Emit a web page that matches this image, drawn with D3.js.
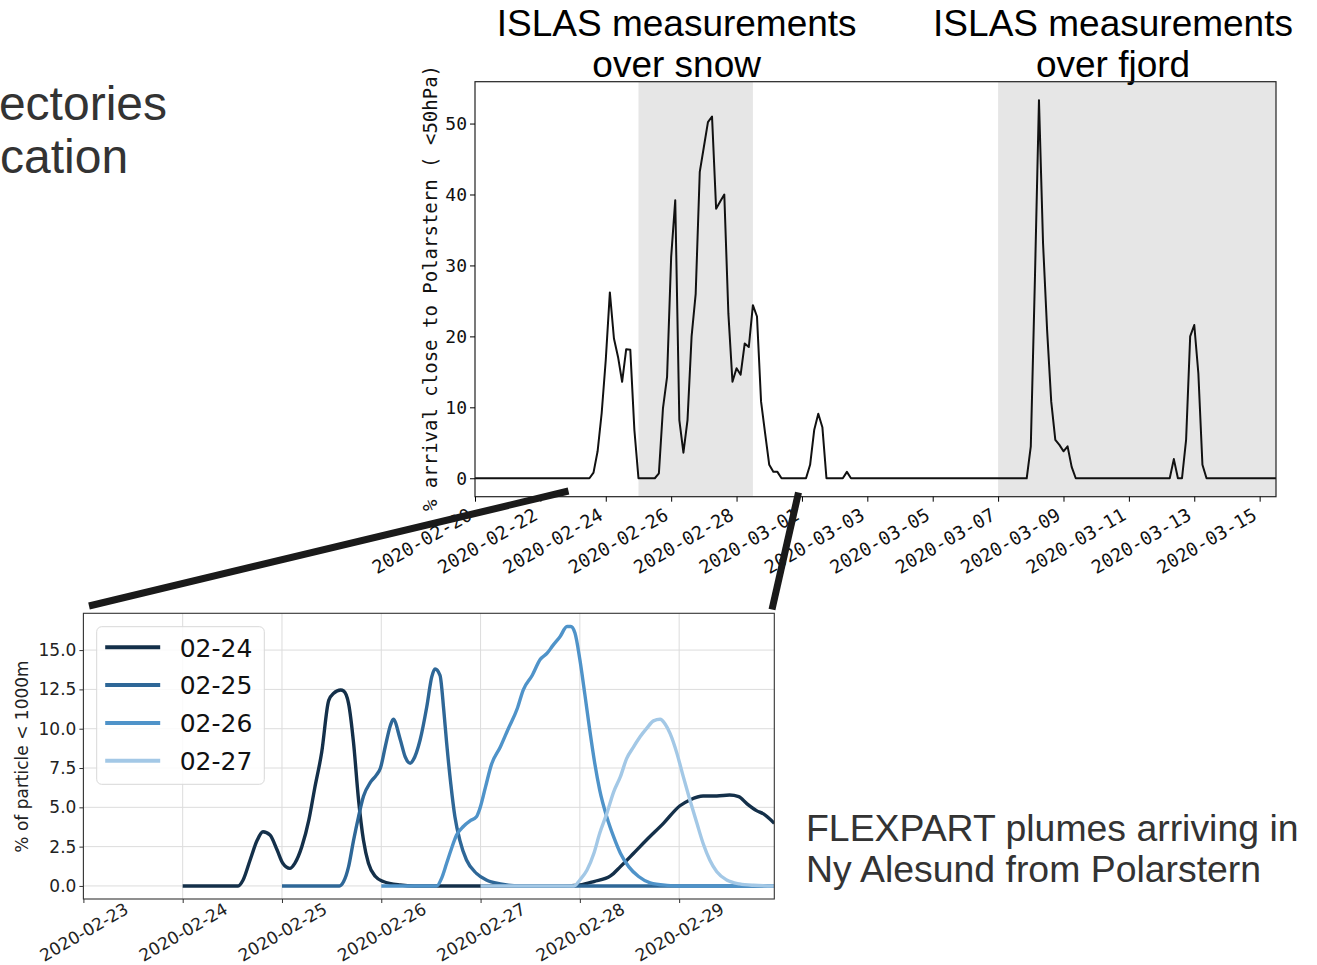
<!DOCTYPE html>
<html>
<head>
<meta charset="utf-8">
<script src="https://cdn.jsdelivr.net/npm/d3@7"></script>
<style>
  body { margin: 0; background: #fff; }
  svg { display: block; }
</style>
</head>
<body>
<div id="chart"></div>
<script>
// -------- Data: top panel (3-hourly arrival %) --------
const arrivalPct = [
  ['2020-02-20 00', 0], ['2020-02-23 12', 0], ['2020-02-23 15', 0.8], ['2020-02-23 18', 3.8],
  ['2020-02-23 21', 9.2], ['2020-02-24 00', 16.7], ['2020-02-24 03', 26.2], ['2020-02-24 06', 19.7],
  ['2020-02-24 09', 17.1], ['2020-02-24 12', 13.6], ['2020-02-24 15', 18.2], ['2020-02-24 18', 18.1],
  ['2020-02-24 21', 6.8], ['2020-02-25 00', 0], ['2020-02-25 12', 0], ['2020-02-25 15', 0.7],
  ['2020-02-25 18', 9.9], ['2020-02-25 21', 14.3], ['2020-02-26 00', 31.2], ['2020-02-26 03', 39.2],
  ['2020-02-26 06', 8.2], ['2020-02-26 09', 3.6], ['2020-02-26 12', 8.2], ['2020-02-26 15', 20.0],
  ['2020-02-26 18', 26.0], ['2020-02-26 21', 43.2], ['2020-02-27 00', 46.7], ['2020-02-27 03', 50.2],
  ['2020-02-27 06', 51.0], ['2020-02-27 09', 38.0], ['2020-02-27 12', 39.0], ['2020-02-27 15', 40.0],
  ['2020-02-27 18', 23.2], ['2020-02-27 21', 13.6], ['2020-02-28 00', 15.5], ['2020-02-28 03', 14.6],
  ['2020-02-28 06', 19.0], ['2020-02-28 09', 18.5], ['2020-02-28 12', 24.4], ['2020-02-28 15', 22.8],
  ['2020-02-28 18', 10.8], ['2020-02-28 21', 6.3], ['2020-02-29 00', 1.9], ['2020-02-29 03', 0.9],
  ['2020-02-29 06', 0.9], ['2020-02-29 09', 0], ['2020-03-01 03', 0], ['2020-03-01 06', 1.9],
  ['2020-03-01 09', 6.8], ['2020-03-01 12', 9.1], ['2020-03-01 15', 7.2], ['2020-03-01 18', 0],
  ['2020-03-02 06', 0], ['2020-03-02 09', 0.9], ['2020-03-02 12', 0], ['2020-03-07 21', 0],
  ['2020-03-08 00', 4.5], ['2020-03-08 03', 27.9], ['2020-03-08 06', 53.3], ['2020-03-08 09', 33.1],
  ['2020-03-08 12', 20.8], ['2020-03-08 15', 10.8], ['2020-03-08 18', 5.4], ['2020-03-08 21', 4.7],
  ['2020-03-09 00', 3.8], ['2020-03-09 03', 4.5], ['2020-03-09 06', 1.6], ['2020-03-09 09', 0],
  ['2020-03-12 06', 0], ['2020-03-12 09', 2.7], ['2020-03-12 12', 0], ['2020-03-12 15', 0],
  ['2020-03-12 18', 5.4], ['2020-03-12 21', 20.0], ['2020-03-13 00', 21.6], ['2020-03-13 03', 14.8],
  ['2020-03-13 06', 1.9], ['2020-03-13 09', 0], ['2020-03-15 12', 0]
];
const measurementSpans = [
  ['2020-02-25 00', '2020-02-28 12'],
  ['2020-03-07 00', '2020-03-16 00']
];
const spanTitles = [
  ['ISLAS measurements', 'over snow'],
  ['ISLAS measurements', 'over fjord']
];
const topXDomain = ['2020-02-20 00', '2020-03-15 12'];
const topXTicks = ['2020-02-20', '2020-02-22', '2020-02-24', '2020-02-26', '2020-02-28',
  '2020-03-01', '2020-03-03', '2020-03-05', '2020-03-07', '2020-03-09', '2020-03-11',
  '2020-03-13', '2020-03-15'];
const topYTicks = [0, 10, 20, 30, 40, 50];

// -------- Data: bottom panel (FLEXPART, [hours after 2020-02-23 00:00, %]) --------
const plumeBase = '2020-02-23 00';
const plume0224 = [[24,0],[37.4,0],[38.6,0.38],[40.3,1.65],[42,2.9],[43.4,3.45],[45.1,3.24],
  [46.8,2.3],[48.2,1.44],[49.9,1.12],[51.1,1.44],[52.8,2.5],[54.5,4.2],[55.9,6.2],[57.6,8.5],
  [59.3,11.8],[60.5,12.25],[62.2,12.46],[62.9,12.4],[64.1,11.6],[65.3,9.1],[66.5,5.5],[67.7,2.9],
  [68.9,1.44],[70.6,0.6],[72.5,0.28],[76.6,0.06],[80,0],[116,0],[120,0.06],[123.4,0.28],
  [127.4,0.64],[129.8,1.23],[133,2.08],[136.1,2.92],[140.2,3.98],[144.2,5.1],[146.6,5.47],
  [149.8,5.72],[153.1,5.72],[156.2,5.78],[158.4,5.68],[160.3,5.25],[162.7,4.79],[164.4,4.58],[167,3.98]];
const plume0225 = [[48,0],[61.9,0],[62.9,0.28],[64.1,1.23],[65.3,2.9],[66.5,4.4],[67.7,5.7],
  [69.4,6.6],[70.8,7.05],[71.8,7.5],[73,8.9],[74.2,10.2],[74.9,10.6],[76.6,9.3],[77.8,8.2],
  [79,7.8],[79.7,8.0],[81.4,9.3],[83,11.4],[84.2,13.3],[85,13.8],[86.2,13.4],[87.1,11.2],
  [87.8,9.1],[88.8,6.5],[89.8,4.4],[91,2.9],[92.6,1.65],[95,0.8],[97.4,0.38],[100.8,0.13],
  [105.6,0],[167,0]];
const plume0226 = [[72,0],[85.4,0],[86.6,0.5],[87.8,1.44],[89,2.4],[90.2,3.24],[91.9,3.8],
  [93.4,4.13],[95,4.4],[95.8,4.9],[97.2,6.3],[98.6,7.7],[100.8,8.85],[102.7,10.0],[104.9,11.3],
  [106.3,12.46],[108.5,13.4],[110.4,14.4],[112.1,14.8],[113.5,15.3],[115.2,15.85],[116.9,16.5],
  [117.8,16.5],[118.8,16.1],[120,14.4],[121.2,12.2],[122.4,9.9],[123.6,7.8],[124.8,6.1],
  [126.5,4.4],[128.2,3.1],[129.8,2.08],[131.8,1.23],[134.2,0.6],[137,0.2],[141.1,0.04],
  [144.2,0],[167,0]];
const plume0227 = [[96,0],[118.6,0],[120,0.38],[121.7,1.0],[123.4,2.08],[124.8,3.35],
  [126.5,4.6],[128.2,6.0],[129.8,6.95],[131.3,8.1],[133,8.85],[134.6,9.5],[136.1,10.0],
  [137.8,10.5],[139.4,10.6],[140.6,10.3],[141.8,9.7],[143.5,8.4],[145,6.95],[146.6,5.47],
  [148.3,3.98],[149.8,2.7],[151.4,1.65],[153.1,0.9],[155.5,0.38],[158.6,0.13],[162,0.04],[167,0]];
const plumeLabels = ['02-24', '02-25', '02-26', '02-27'];
const bottomXDomain = ['2020-02-23 00', '2020-02-29 23'];
const bottomXTicks = ['2020-02-23', '2020-02-24', '2020-02-25', '2020-02-26',
  '2020-02-27', '2020-02-28', '2020-02-29'];
const bottomYTicks = [0, 2.5, 5, 7.5, 10, 12.5, 15];

// -------- Side texts --------
const leftText = ['ectories', 'cation'];
const rightText = ['FLEXPART plumes arriving in', 'Ny Alesund from Polarstern'];

// -------- Styles --------
const plumeColors = ['#14304a', '#2e6797', '#4f93c9', '#a3c8e6'];
const mono = '"DejaVu Sans Mono", monospace';
const sans = '"DejaVu Sans", sans-serif';
const lib = '"Liberation Sans", Arial, sans-serif';

const parseHour = d3.utcParse('%Y-%m-%d %H');
const parseDay = d3.utcParse('%Y-%m-%d');

const svg = d3.select('#chart').append('svg')
  .attr('width', 1317).attr('height', 965);

// ================= TOP PANEL =================
const topBox = { left: 475, right: 1276, top: 81.7, bottom: 496.7 };

const xTop = d3.scaleUtc()
  .domain(topXDomain.map(parseHour))
  .range([topBox.left, topBox.right]);
const yTop = d3.scaleLinear()
  .domain([-2.6, 55.9])
  .range([topBox.bottom, topBox.top]);

svg.append('clipPath').attr('id', 'clipTop')
  .append('rect')
    .attr('x', topBox.left).attr('y', topBox.top)
    .attr('width', topBox.right - topBox.left).attr('height', topBox.bottom - topBox.top);

// shaded measurement periods
svg.append('g').attr('clip-path', 'url(#clipTop)')
  .selectAll('rect')
  .data(measurementSpans)
  .join('rect')
    .attr('x', d => xTop(parseHour(d[0])))
    .attr('width', d => xTop(parseHour(d[1])) - xTop(parseHour(d[0])))
    .attr('y', topBox.top)
    .attr('height', topBox.bottom - topBox.top)
    .attr('fill', '#e6e6e6');

// titles over each period
spanTitles.forEach((lines, i) => {
  const span = measurementSpans[i];
  const cx = i === 0
    ? (xTop(parseHour(span[0])) + xTop(parseHour(span[1]))) / 2 - 19
    : (xTop(parseHour(span[0])) + topBox.right) / 2 - 24;
  svg.append('g')
    .selectAll('text')
    .data(lines)
    .join('text')
      .attr('x', cx)
      .attr('y', (d, j) => 36 + j * 41)
      .attr('text-anchor', 'middle')
      .attr('fill', '#000')
      .style('font-family', lib)
      .style('font-size', '37px')
      .text(d => d);
});

// line
const lineTop = d3.line()
  .x(d => xTop(parseHour(d[0])))
  .y(d => yTop(d[1]));

svg.append('path')
  .datum(arrivalPct)
  .attr('clip-path', 'url(#clipTop)')
  .attr('d', lineTop)
  .attr('fill', 'none')
  .attr('stroke', '#111')
  .attr('stroke-width', 2)
  .attr('stroke-linejoin', 'round');

// frame
svg.append('rect')
  .attr('x', topBox.left).attr('y', topBox.top)
  .attr('width', topBox.right - topBox.left).attr('height', topBox.bottom - topBox.top)
  .attr('fill', 'none').attr('stroke', '#222').attr('stroke-width', 1.2);

// axes
const xAxisTop = svg.append('g')
  .attr('transform', `translate(0,${topBox.bottom})`)
  .call(d3.axisBottom(xTop)
    .tickValues(topXTicks.map(parseDay))
    .tickFormat(d3.utcFormat('%Y-%m-%d'))
    .tickSize(5).tickSizeOuter(0));
xAxisTop.select('.domain').remove();
xAxisTop.selectAll('text')
  .attr('y', null).attr('dy', null)
  .attr('transform', 'translate(-2,22) rotate(-30)')
  .attr('text-anchor', 'end')
  .attr('fill', '#111')
  .style('font-family', mono)
  .style('font-size', '18.5px');

const yAxisTop = svg.append('g')
  .attr('transform', `translate(${topBox.left},0)`)
  .call(d3.axisLeft(yTop).tickValues(topYTicks).tickSize(5).tickSizeOuter(0));
yAxisTop.select('.domain').remove();
yAxisTop.selectAll('text')
  .attr('x', -8)
  .attr('fill', '#111')
  .style('font-family', mono)
  .style('font-size', '18px');

svg.append('text')
  .attr('transform', `translate(437,${(63 + 513) / 2}) rotate(-90)`)
  .attr('text-anchor', 'middle')
  .attr('fill', '#111')
  .style('font-family', mono)
  .style('font-size', '19px')
  .text('% arrival close to Polarstern ( <50hPa)');

// ================= BOTTOM PANEL =================
const botBox = { left: 83.4, right: 774.3, top: 613.3, bottom: 899 };

const base = parseHour(plumeBase);
const hourDate = h => new Date(base.getTime() + h * 3600e3);

const xBot = d3.scaleUtc()
  .domain(bottomXDomain.map(parseHour))
  .range([botBox.left, botBox.right]);
const yBot = d3.scaleLinear()
  .domain([-0.83, 17.34])
  .range([botBox.bottom, botBox.top]);

// grid
const grid = svg.append('g').attr('stroke', '#dcdcdc').attr('stroke-width', 1);
grid.selectAll('line.gx')
  .data(bottomXTicks.map(parseDay))
  .join('line').attr('class', 'gx')
    .attr('x1', d => xBot(d)).attr('x2', d => xBot(d))
    .attr('y1', botBox.top).attr('y2', botBox.bottom);
grid.selectAll('line.gy')
  .data(bottomYTicks)
  .join('line').attr('class', 'gy')
    .attr('x1', botBox.left).attr('x2', botBox.right)
    .attr('y1', d => yBot(d)).attr('y2', d => yBot(d));

svg.append('clipPath').attr('id', 'clipBot')
  .append('rect')
    .attr('x', botBox.left).attr('y', botBox.top)
    .attr('width', botBox.right - botBox.left).attr('height', botBox.bottom - botBox.top);

const plumes = [plume0224, plume0225, plume0226, plume0227];
const lineBot = d3.line()
  .curve(d3.curveMonotoneX)
  .x(d => xBot(hourDate(d[0])))
  .y(d => yBot(d[1]));

svg.append('g').attr('clip-path', 'url(#clipBot)')
  .selectAll('path')
  .data(plumes)
  .join('path')
    .attr('d', lineBot)
    .attr('fill', 'none')
    .attr('stroke', (d, i) => plumeColors[i])
    .attr('stroke-width', 3.4)
    .attr('stroke-linejoin', 'round');

svg.append('rect')
  .attr('x', botBox.left).attr('y', botBox.top)
  .attr('width', botBox.right - botBox.left).attr('height', botBox.bottom - botBox.top)
  .attr('fill', 'none').attr('stroke', '#333').attr('stroke-width', 1.1);

const xAxisBot = svg.append('g')
  .attr('transform', `translate(0,${botBox.bottom})`)
  .call(d3.axisBottom(xBot)
    .tickValues(bottomXTicks.map(parseDay))
    .tickFormat(d3.utcFormat('%Y-%m-%d'))
    .tickSize(4).tickSizeOuter(0));
xAxisBot.select('.domain').remove();
xAxisBot.selectAll('line').attr('stroke', '#333');
xAxisBot.selectAll('text')
  .attr('y', null).attr('dy', null)
  .attr('transform', 'translate(0,33) rotate(-30)')
  .attr('text-anchor', 'middle')
  .attr('dominant-baseline', 'central')
  .attr('fill', '#222')
  .style('font-family', sans)
  .style('font-size', '17px');

const yAxisBot = svg.append('g')
  .attr('transform', `translate(${botBox.left},0)`)
  .call(d3.axisLeft(yBot).tickValues(bottomYTicks).tickFormat(d3.format('.1f'))
    .tickSize(4).tickSizeOuter(0));
yAxisBot.select('.domain').remove();
yAxisBot.selectAll('line').attr('stroke', '#333');
yAxisBot.selectAll('text')
  .attr('x', -7)
  .attr('fill', '#222')
  .style('font-family', sans)
  .style('font-size', '17px');

svg.append('text')
  .attr('transform', `translate(28,${(658 + 855) / 2}) rotate(-90)`)
  .attr('text-anchor', 'middle')
  .attr('fill', '#222')
  .style('font-family', sans)
  .style('font-size', '17px')
  .text('% of particle < 1000m');

// legend
const legend = svg.append('g').attr('transform', 'translate(96.7,626.7)');
legend.append('rect')
  .attr('width', 167.6).attr('height', 157.6).attr('rx', 5)
  .attr('fill', '#fff').attr('fill-opacity', 0.85)
  .attr('stroke', '#d8d8d8');
legend.selectAll('g.item')
  .data(plumeLabels)
  .join('g')
    .attr('class', 'item')
    .attr('transform', (d, i) => `translate(0,${20.6 + i * 37.8})`)
  .call(g => {
    g.append('line')
      .attr('x1', 8.5).attr('x2', 63.5)
      .attr('stroke', (d, i) => plumeColors[i])
      .attr('stroke-width', 4);
    g.append('text')
      .attr('x', 83).attr('dy', '0.37em')
      .attr('fill', '#111')
      .style('font-family', sans)
      .style('font-size', '25px')
      .text(d => d);
  });

// ================= ANNOTATIONS =================
const connectors = [
  [[89, 606], [568.5, 491]],
  [[772, 609.5], [798.5, 492.5]]
];
svg.append('g')
  .selectAll('line')
  .data(connectors)
  .join('line')
    .attr('x1', d => d[0][0]).attr('y1', d => d[0][1])
    .attr('x2', d => d[1][0]).attr('y2', d => d[1][1])
    .attr('stroke', '#1a1a1a')
    .attr('stroke-width', 7);

svg.append('g')
  .selectAll('text')
  .data(leftText)
  .join('text')
    .attr('x', (d, i) => i === 0 ? 167 : 0)
    .attr('y', (d, i) => 120 + i * 53)
    .attr('text-anchor', (d, i) => i === 0 ? 'end' : 'start')
    .attr('fill', '#333')
    .style('font-family', lib)
    .style('font-size', '48px')
    .text(d => d);

svg.append('g')
  .selectAll('text')
  .data(rightText)
  .join('text')
    .attr('x', 806)
    .attr('y', (d, i) => 841 + i * 41)
    .attr('fill', '#333')
    .style('font-family', lib)
    .style('font-size', '37.4px')
    .text(d => d);
</script>
</body>
</html>
